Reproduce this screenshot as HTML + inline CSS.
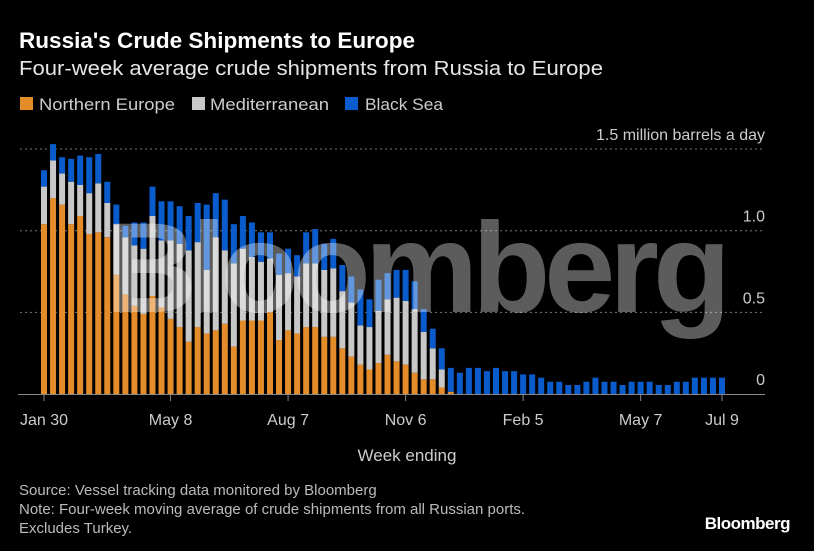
<!DOCTYPE html>
<html><head><meta charset="utf-8">
<style>
html,body{margin:0;padding:0;background:#000;}
svg{display:block;font-family:"Liberation Sans",sans-serif;}
</style></head>
<body>
<svg id="chart" width="814" height="551" viewBox="0 0 814 551" xmlns="http://www.w3.org/2000/svg">
<rect width="814" height="551" fill="#000"/>
<text x="19" y="48" fill="#fff" font-size="22" font-weight="bold" textLength="396" lengthAdjust="spacingAndGlyphs">Russia's Crude Shipments to Europe</text>
<text x="19" y="75" fill="#e6e6e6" font-size="20" textLength="584" lengthAdjust="spacingAndGlyphs">Four-week average crude shipments from Russia to Europe</text>
<g>
<rect x="20" y="97" width="13" height="13" fill="#e48c2a"/>
<text x="39" y="110" fill="#ccc" font-size="17" textLength="136" lengthAdjust="spacingAndGlyphs">Northern Europe</text>
<rect x="192" y="97" width="13" height="13" fill="#c8c8c8"/>
<text x="210" y="110" fill="#ccc" font-size="17" textLength="119" lengthAdjust="spacingAndGlyphs">Mediterranean</text>
<rect x="345" y="97" width="13" height="13" fill="#0a5ccc"/>
<text x="365" y="110" fill="#ccc" font-size="17" textLength="78" lengthAdjust="spacingAndGlyphs">Black Sea</text>
</g>
<g id="grid"></g>
<g id="bars"></g>
<text x="415" y="312" text-anchor="middle" fill="rgba(255,255,255,0.36)" font-size="128" font-weight="bold" letter-spacing="-6" textLength="620" lengthAdjust="spacingAndGlyphs">Bloomberg</text>
<g id="axis"></g>
<text x="407" y="461" text-anchor="middle" fill="#ccc" font-size="17">Week ending</text>
<text x="19" y="495" fill="#bbb" font-size="15">Source: Vessel tracking data monitored by Bloomberg</text>
<text x="19" y="514" fill="#bbb" font-size="15">Note: Four-week moving average of crude shipments from all Russian ports.</text>
<text x="19" y="533" fill="#bbb" font-size="15">Excludes Turkey.</text>
<text x="790" y="529" text-anchor="end" fill="#fff" font-size="17" font-weight="bold" letter-spacing="-0.5">Bloomberg</text>
</svg>
<script>
const northern = [1.04,1.20,1.16,1.04,1.09,0.98,0.99,0.96,0.73,0.61,0.54,0.49,0.60,0.53,0.46,0.41,0.32,0.41,0.37,0.39,0.43,0.29,0.45,0.45,0.45,0.50,0.33,0.39,0.37,0.41,0.41,0.35,0.35,0.28,0.23,0.18,0.15,0.19,0.24,0.20,0.18,0.13,0.09,0.09,0.04,0.014,0,0,0,0,0,0,0,0,0,0,0,0,0,0,0,0,0,0,0,0,0,0,0,0,0,0,0,0,0,0];
const mediterranean = [0.23,0.23,0.19,0.26,0.19,0.25,0.30,0.21,0.31,0.35,0.37,0.40,0.49,0.41,0.48,0.51,0.56,0.52,0.39,0.57,0.45,0.51,0.44,0.39,0.36,0.33,0.40,0.35,0.35,0.39,0.39,0.41,0.42,0.35,0.33,0.24,0.26,0.32,0.34,0.39,0.39,0.39,0.29,0.19,0.11,0,0,0,0,0,0,0,0,0,0,0,0,0,0,0,0,0,0,0,0,0,0,0,0,0,0,0,0,0,0,0];
const blackSea = [0.10,0.10,0.10,0.14,0.18,0.22,0.18,0.13,0.12,0.07,0.14,0.16,0.18,0.24,0.24,0.23,0.21,0.24,0.40,0.27,0.31,0.24,0.20,0.21,0.18,0.16,0.13,0.15,0.13,0.19,0.21,0.16,0.18,0.16,0.16,0.22,0.17,0.19,0.16,0.17,0.19,0.17,0.14,0.12,0.13,0.146,0.13,0.16,0.16,0.14,0.16,0.14,0.14,0.12,0.12,0.10,0.075,0.075,0.055,0.055,0.075,0.10,0.075,0.075,0.055,0.075,0.075,0.075,0.055,0.055,0.075,0.075,0.10,0.10,0.10,0.10];
const yTicks = [0,0.5,1.0,1.5];
const yTickLabels = ["0","0.5","1.0","1.5 million barrels a day"];
const xTickIndex = [0,14,27,40,53,66,75];
const xTickLabels = ["Jan 30","May 8","Aug 7","Nov 6","Feb 5","May 7","Jul 9"];

const NS="http://www.w3.org/2000/svg";
const y0=394, pxPerUnit=163.3, x0=44, step=9.04, bw=6;
const yScale=v=>y0-v*pxPerUnit;
const xScale=i=>x0+i*step;
function mk(tag,attrs,parent){const e=document.createElementNS(NS,tag);for(const k in attrs)e.setAttribute(k,attrs[k]);parent.appendChild(e);return e;}
const grid=document.getElementById('grid'),bars=document.getElementById('bars'),axis=document.getElementById('axis');
yTicks.forEach((t,i)=>{
  if(t>0){const l=mk('line',{x1:20,x2:765,y1:yScale(t),y2:yScale(t),stroke:'#777','stroke-dasharray':'2,3','stroke-width':1},grid);
  
  }
  const tx=mk('text',{x:765,y:yScale(t)-9,'text-anchor':'end',fill:'#ccc','font-size':16},grid);
  tx.textContent=yTickLabels[i];
  
  
});
const series=[[northern,'#e48c2a','northern-europe'],[mediterranean,'#c8c8c8','mediterranean'],[blackSea,'#0a5ccc','black-sea']];
for(let i=0;i<northern.length;i++){
  let base=0;
  series.forEach(([arr,col,nm])=>{
    const v=arr[i]||0; if(v<=0)return;
    const r=mk('rect',{x:xScale(i)-bw/2,y:yScale(base+v),width:bw,height:v*pxPerUnit,fill:col},bars);
    
    
    base+=v;
  });
}
const bl=mk('line',{x1:18,x2:765,y1:y0+0.5,y2:y0+0.5,stroke:'#888','stroke-width':1},axis);


xTickIndex.forEach((idx,i)=>{
  const t=mk('line',{x1:xScale(idx),x2:xScale(idx),y1:y0,y2:y0+7,stroke:'#888'},axis);
  
  
  const tx=mk('text',{x:xScale(idx),y:y0+31,'text-anchor':'middle',fill:'#ccc','font-size':16},axis);
  tx.textContent=xTickLabels[i];
  
  
});
</script>
</body></html>
